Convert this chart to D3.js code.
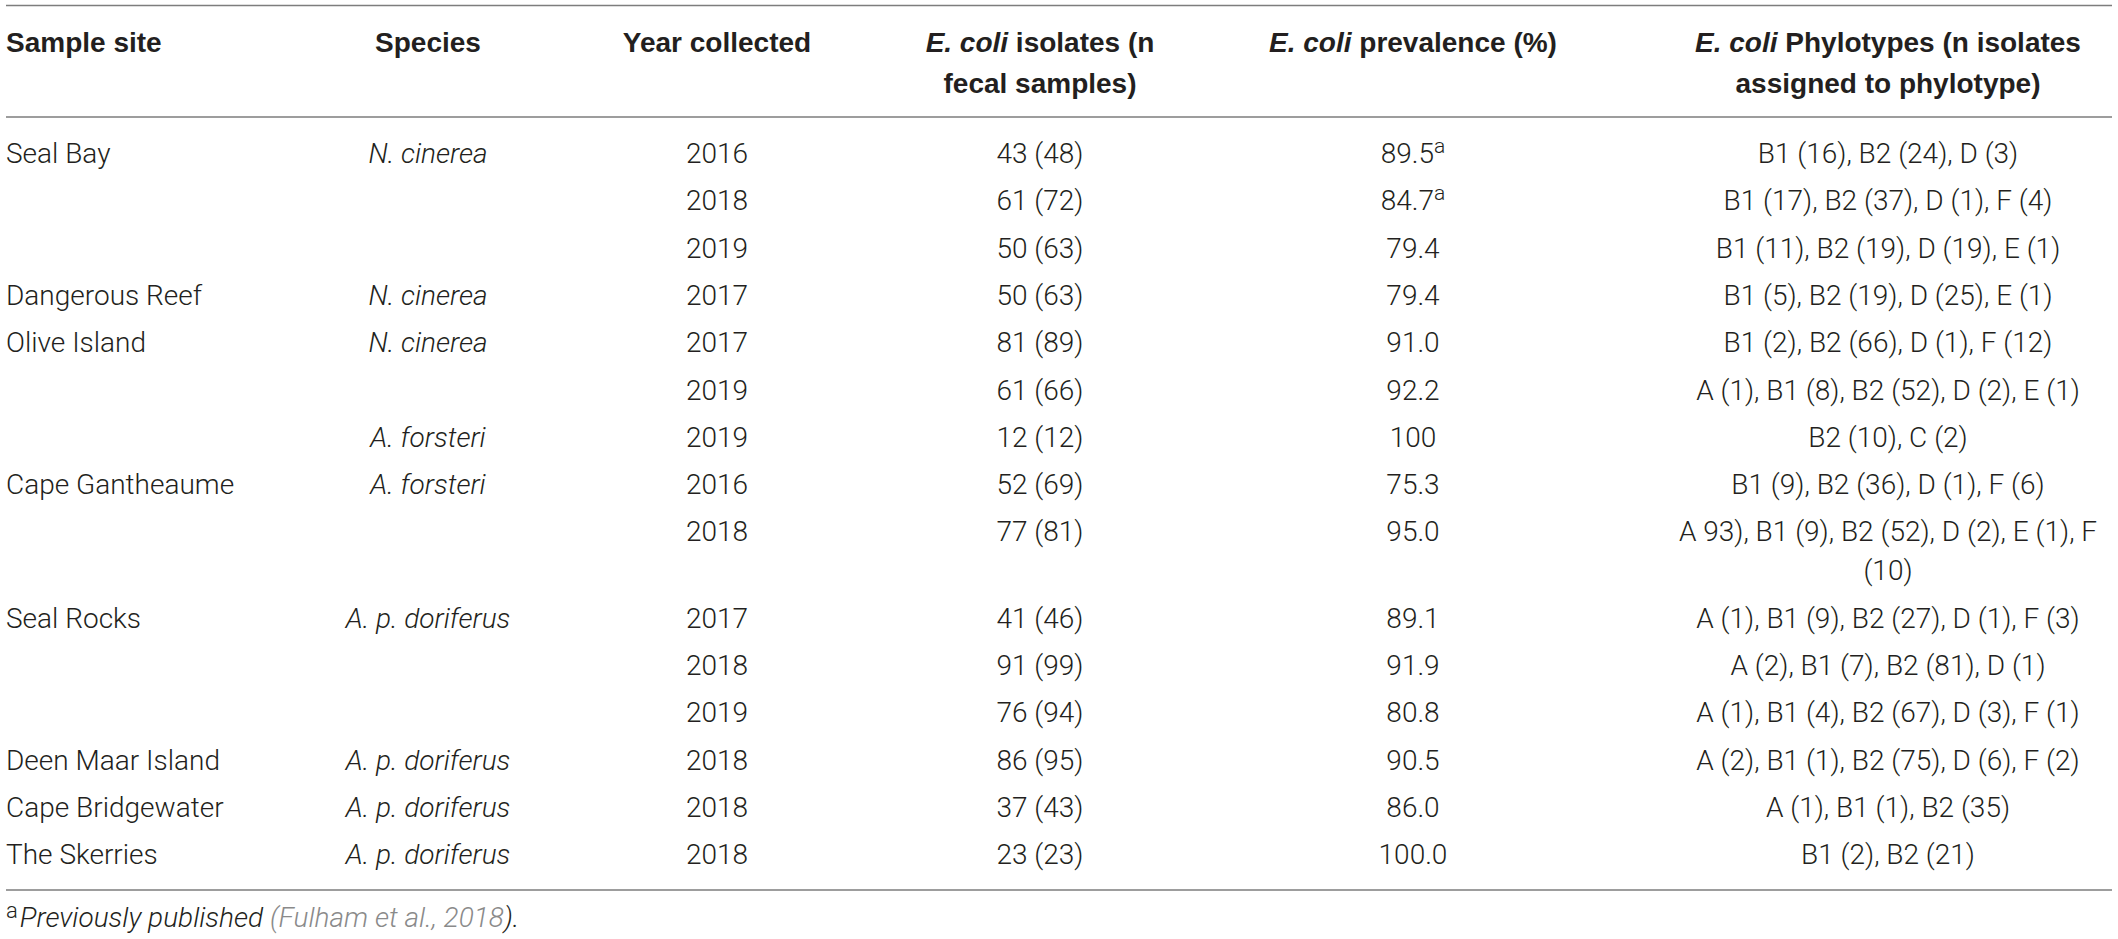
<!DOCTYPE html>
<html lang="en">
<head>
    <meta charset="UTF-8">
    <title>E. coli isolates by sample site</title>
    <script src="https://cdn.jsdelivr.net/npm/d3@7/dist/d3.min.js"></script>
    <style>
        body { margin: 0; background: #fff; }
        text { font-family: Roboto, "Liberation Sans", sans-serif; fill: #231f20; }
        .body { font-weight: 300; font-size: 28px; }
        .head { font-weight: 700; font-size: 28px; font-family: "Liberation Sans", Roboto, sans-serif; }
    </style>
</head>
<body>
    <script>
        // table content
        const sites = ["Seal Bay", "", "", "Dangerous Reef", "Olive Island", "", "", "Cape Gantheaume", "",
            "Seal Rocks", "", "", "Deen Maar Island", "Cape Bridgewater", "The Skerries"];
        const species = ["N. cinerea", "", "", "N. cinerea", "N. cinerea", "", "A. forsteri", "A. forsteri", "",
            "A. p. doriferus", "", "", "A. p. doriferus", "A. p. doriferus", "A. p. doriferus"];
        const years = [2016, 2018, 2019, 2017, 2017, 2019, 2019, 2016, 2018, 2017, 2018, 2019, 2018, 2018, 2018];
        const isolates = [43, 61, 50, 50, 81, 61, 12, 52, 77, 41, 91, 76, 86, 37, 23];
        const fecalSamples = [48, 72, 63, 63, 89, 66, 12, 69, 81, 46, 99, 94, 95, 43, 23];
        const prevalence = ["89.5", "84.7", "79.4", "79.4", "91.0", "92.2", "100", "75.3", "95.0",
            "89.1", "91.9", "80.8", "90.5", "86.0", "100.0"];
        const prevalenceNote = ["a", "a", "", "", "", "", "", "", "", "", "", "", "", "", ""];
        const phylotypes = [
            "B1 (16), B2 (24), D (3)",
            "B1 (17), B2 (37), D (1), F (4)",
            "B1 (11), B2 (19), D (19), E (1)",
            "B1 (5), B2 (19), D (25), E (1)",
            "B1 (2), B2 (66), D (1), F (12)",
            "A (1), B1 (8), B2 (52), D (2), E (1)",
            "B2 (10), C (2)",
            "B1 (9), B2 (36), D (1), F (6)",
            "A 93), B1 (9), B2 (52), D (2), E (1), F\n(10)",
            "A (1), B1 (9), B2 (27), D (1), F (3)",
            "A (2), B1 (7), B2 (81), D (1)",
            "A (1), B1 (4), B2 (67), D (3), F (1)",
            "A (2), B1 (1), B2 (75), D (6), F (2)",
            "A (1), B1 (1), B2 (35)",
            "B1 (2), B2 (21)"
        ];
        // header lines: [text, italic]
        const columns = ["site", "species", "year", "isolates", "prevalence", "phylotypes"];
        const headers = [
            [[["Sample site", false]]],
            [[["Species", false]]],
            [[["Year collected", false]]],
            [[["E. coli", true], [" isolates (n", false]], [["fecal samples)", false]]],
            [[["E. coli", true], [" prevalence (%)", false]]],
            [[["E. coli", true], [" Phylotypes (n isolates", false]], [["assigned to phylotype)", false]]]
        ];
        const footnoteMark = "a";
        const footnoteText = "Previously published ";
        const footnoteRef = "(Fulham et al., 2018";
        const footnoteEnd = ").";

        const width = 2118, height = 939;
        const left = 6, right = 2112;
        const lineH = 39, rowPad = 8.3, capShift = 10;

        const x = d3.scaleOrdinal().domain(columns).range([left, 428, 717, 1040, 1413, 1888]);
        const anchor = c => c === "site" ? "start" : "middle";

        const svg = d3.select("body").append("svg").attr("width", width).attr("height", height);

        // rules
        const rules = [5.5, 117, 890];
        svg.selectAll("line.rule").data(rules).enter().append("line")
            .attr("class", "rule")
            .attr("x1", left).attr("x2", right)
            .attr("y1", d => d).attr("y2", d => d)
            .attr("stroke", "#7d7d7d").attr("stroke-width", 1.6);

        // header
        const headY = d3.scaleLinear().domain([0, 1]).range([42 + capShift, 83 + capShift]);
        headers.forEach((lines, ci) => {
            lines.forEach((parts, li) => {
                const t = svg.append("text").attr("class", "head")
                    .attr("x", x(columns[ci])).attr("y", headY(li))
                    .attr("text-anchor", anchor(columns[ci]));
                parts.forEach(p => t.append("tspan").text(p[0]).attr("font-style", p[1] ? "italic" : "normal"));
            });
        });

        // body rows
        const rows = years.map((y, i) => ({
            site: sites[i], species: species[i], year: String(y),
            isolates: `${isolates[i]} (${fecalSamples[i]})`,
            prevalence: prevalence[i], note: prevalenceNote[i],
            phylo: phylotypes[i].split("\n")
        }));
        const rowHeights = rows.map(r => r.phylo.length * lineH + rowPad);
        const rowTops = [0].concat(Array.from(d3.cumsum(rowHeights)).slice(0, -1));
        const y0 = 153 - (lineH + rowPad) / 2;
        const yRow = d3.scaleLinear().domain([0, 1]).range([y0, y0 + 1]);
        const firstLine = i => yRow(rowTops[i]) + (lineH + rowPad) / 2 + capShift;

        const g = svg.selectAll("g.row").data(rows).enter().append("g").attr("class", "row");

        g.append("text").attr("class", "body")
            .attr("x", x("site")).attr("y", (d, i) => firstLine(i))
            .text(d => d.site);
        g.append("text").attr("class", "body")
            .attr("x", x("species")).attr("y", (d, i) => firstLine(i))
            .attr("text-anchor", "middle").attr("font-style", "italic")
            .text(d => d.species);
        g.append("text").attr("class", "body")
            .attr("x", x("year")).attr("y", (d, i) => firstLine(i))
            .attr("text-anchor", "middle").text(d => d.year);
        g.append("text").attr("class", "body")
            .attr("x", x("isolates")).attr("y", (d, i) => firstLine(i))
            .attr("text-anchor", "middle").text(d => d.isolates);
        const prev = g.append("text").attr("class", "body")
            .attr("x", x("prevalence")).attr("y", (d, i) => firstLine(i))
            .attr("text-anchor", "middle");
        prev.append("tspan").text(d => d.prevalence);
        prev.filter(d => d.note).append("tspan")
            .attr("dy", -10).attr("font-size", 21).text(d => d.note);

        g.each(function (d, i) {
            d3.select(this).selectAll("text.phylo").data(d.phylo).enter().append("text")
                .attr("class", "body phylo")
                .attr("x", x("phylotypes"))
                .attr("y", (t, li) => firstLine(i) + li * lineH)
                .attr("text-anchor", "middle")
                .text(t => t);
        });

        // footnote
        const fn = svg.append("text").attr("class", "body").attr("x", left)
            .attr("y", 917 + capShift).attr("font-size", 30);
        fn.append("tspan").attr("font-size", 22).attr("dy", -9).text(footnoteMark);
        fn.append("tspan").attr("font-style", "italic").attr("dy", 9).attr("dx", 2).text(footnoteText);
        fn.append("tspan").attr("font-style", "italic").style("fill", "#8a8a8a").text(footnoteRef);
        fn.append("tspan").attr("font-style", "italic").text(footnoteEnd);
    </script>
</body>
</html>
